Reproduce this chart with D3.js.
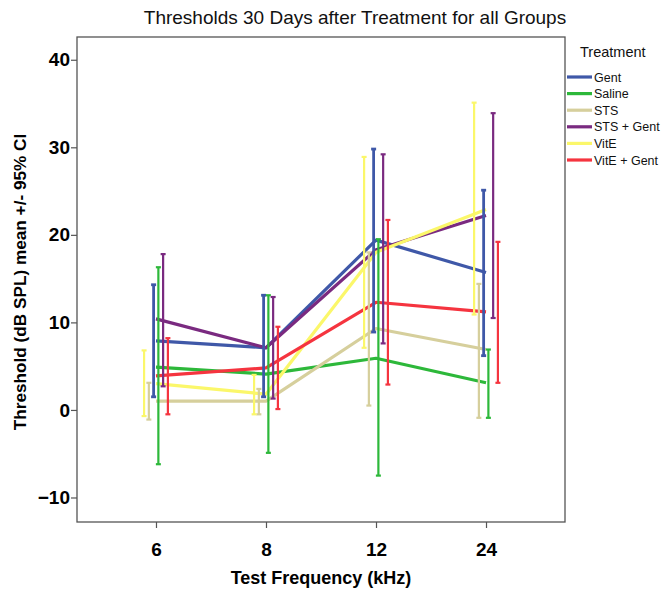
<!DOCTYPE html>
<html><head><meta charset="utf-8">
<script src="https://cdn.jsdelivr.net/npm/d3@7/dist/d3.min.js"></script>
<style>
body{margin:0;background:#fff;}
svg{display:block;font-family:"Liberation Sans",Arial,sans-serif;}
</style></head>
<body><svg id="chart" width="662" height="592"></svg>
<script>
const frequencies = ["6", "8", "12", "24"];
const groups = ["Gent", "Saline", "STS", "STS + Gent", "VitE", "VitE + Gent"];
const colors = ["#3f58a8", "#2db83a", "#d6cf9c", "#7a2a80", "#fbf76a", "#f5343f"];
// position of each group's error bar within a frequency cluster (0 = leftmost)
const barOrder = [2, 3, 1, 4, 0, 5];

const gentMean = [7.9, 7.1, 19.4, 15.7];
const gentHigh = [14.3, 13.1, 29.8, 25.1];
const gentLow = [1.5, 1.5, 8.9, 6.2];

const salineMean = [4.9, 4.1, 5.9, 3.1];
const salineHigh = [16.3, 13.1, 19.5, 6.9];
const salineLow = [-6.2, -4.9, -7.5, -0.9];

const stsMean = [1.0, 1.0, 9.3, 6.9];
const stsHigh = [3.1, 2.4, 18.0, 14.4];
const stsLow = [-1.1, -0.5, 0.5, -0.9];

const stsGentMean = [10.4, 7.1, 18.3, 22.2];
const stsGentHigh = [17.8, 12.9, 29.2, 33.9];
const stsGentLow = [2.7, 1.3, 7.6, 10.5];

const viteMean = [3.0, 1.8, 18.0, 22.9];
const viteHigh = [6.8, 4.0, 28.9, 35.1];
const viteLow = [-0.7, -0.5, 7.1, 10.9];

const viteGentMean = [3.9, 4.8, 12.3, 11.2];
const viteGentHigh = [8.2, 9.5, 21.7, 19.2];
const viteGentLow = [-0.5, 0.1, 2.9, 3.1];

const yTicks = [-10, 0, 10, 20, 30, 40];

const means = [gentMean, salineMean, stsMean, stsGentMean, viteMean, viteGentMean];
const highs = [gentHigh, salineHigh, stsHigh, stsGentHigh, viteHigh, viteGentHigh];
const lows = [gentLow, salineLow, stsLow, stsGentLow, viteLow, viteGentLow];

const svg = d3.select("#chart");
const L = 77, R = 565, T = 37, B = 522;

const x = d3.scalePoint().domain(frequencies).range([L, R]).padding(0.718);
const y = d3.scaleLinear().domain([-12.8, 42.6]).range([B, T]);
const off = d3.scalePoint().domain(d3.range(6)).range([-11.9, 11.9]);

// frame
svg.append("rect").attr("x", L).attr("y", T).attr("width", R - L).attr("height", B - T)
  .attr("fill", "none").attr("stroke", "#555").attr("stroke-width", 1.3);

// axes
const yAxis = svg.append("g").attr("transform", `translate(${L},0)`)
  .call(d3.axisLeft(y).tickValues(yTicks).tickSize(6).tickSizeOuter(0));
yAxis.select(".domain").remove();
yAxis.selectAll("line").attr("stroke", "#555").attr("stroke-width", 1.2);
yAxis.selectAll("text").attr("font-size", 19).attr("font-weight", "bold").attr("fill", "#000").attr("x", -7);

const xAxis = svg.append("g").attr("transform", `translate(0,${B})`)
  .call(d3.axisBottom(x).tickSize(6).tickSizeOuter(0));
xAxis.select(".domain").remove();
xAxis.selectAll("line").attr("stroke", "#555").attr("stroke-width", 1.2);
xAxis.selectAll("text").attr("font-size", 19).attr("font-weight", "bold").attr("fill", "#000")
  .attr("dy", null).attr("y", 34);

// lines at category centers
const line = d3.line().x((d, i) => x(frequencies[i])).y(d => y(d));
groups.forEach((g, gi) => {
  svg.append("path").datum(means[gi]).attr("d", line)
    .attr("fill", "none").attr("stroke", colors[gi]).attr("stroke-width", 3.2)
    .attr("stroke-linejoin", "round");
});

// error bars
groups.forEach((g, gi) => {
  const gg = svg.append("g").attr("stroke", colors[gi]).attr("stroke-width", gi === 0 ? 2.8 : 2.2);
  frequencies.forEach((f, fi) => {
    const cx = x(f) + off(barOrder[gi]);
    gg.append("line").attr("x1", cx).attr("x2", cx).attr("y1", y(highs[gi][fi])).attr("y2", y(lows[gi][fi]));
    [highs[gi][fi], lows[gi][fi]].forEach(v => {
      gg.append("line").attr("x1", cx - 2.5).attr("x2", cx + 2.5).attr("y1", y(v)).attr("y2", y(v));
    });
  });
});

// title
svg.append("text").attr("x", 355).attr("y", 24).attr("text-anchor", "middle")
  .attr("font-size", 19).attr("fill", "#111").text("Thresholds 30 Days after Treatment for all Groups");

// axis titles
svg.append("text").attr("x", 321).attr("y", 584).attr("text-anchor", "middle")
  .attr("font-size", 18).attr("font-weight", "bold").attr("fill", "#000").text("Test Frequency (kHz)");
svg.append("text").attr("transform", "translate(26,282) rotate(-90)").attr("text-anchor", "middle")
  .attr("font-size", 17.2).attr("font-weight", "bold").attr("fill", "#000").text("Threshold (dB SPL) mean +/- 95% CI");

// legend
svg.append("text").attr("x", 580).attr("y", 57).attr("font-size", 14.5).attr("fill", "#111").text("Treatment");
const leg = svg.append("g");
groups.forEach((g, gi) => {
  const yy = 77 + gi * 16.6;
  leg.append("line").attr("x1", 567).attr("x2", 592).attr("y1", yy).attr("y2", yy)
    .attr("stroke", colors[gi]).attr("stroke-width", 3.2);
  leg.append("text").attr("x", 594).attr("y", yy + 4.5).attr("font-size", 12.5).attr("fill", "#111").text(g);
});
</script></body></html>
